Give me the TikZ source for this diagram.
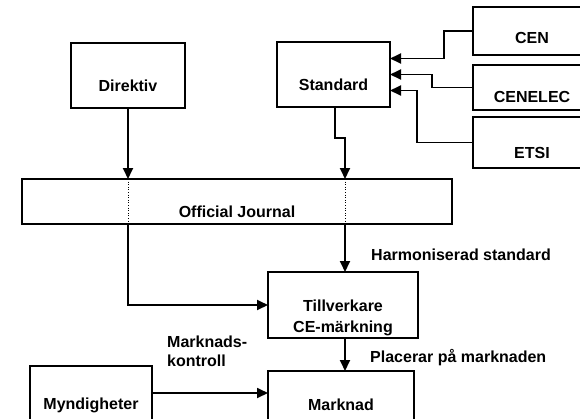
\documentclass[tikz,border=0pt]{standalone}
\usepackage{fontspec}
\setmainfont{Liberation Sans}
\usetikzlibrary{arrows.meta}

\begin{document}
\begin{tikzpicture}[x=1pt,y=-1pt,
		blk/.style={draw,line width=1.9pt,anchor=north west,inner sep=0pt,outer sep=0pt,align=center,font=\fontsize{16}{19}\selectfont\bfseries},
		lbl/.style={anchor=base west,inner sep=0pt,align=left,font=\fontsize{16}{19}\selectfont\bfseries},
		con/.style={line width=1.8pt,-{Triangle[length=11pt,width=10pt]}},
		thru/.style={line width=0.6pt,dotted}]
	\useasboundingbox (0,0) rectangle (580,418);
	\clip (0,0) rectangle (580,418);
	% boxes
	\node[blk,minimum width=114pt,minimum height=65pt,text height=48.5pt,text depth=16.5pt] (dir) at (71,43) {Direktiv};
	\node[blk,minimum width=113pt,minimum height=65pt,text height=48pt,text depth=17pt] (std) at (277,42) {Standard};
	\node[blk,minimum width=118pt,minimum height=48pt,text height=36.3pt,text depth=11.7pt] (cen) at (473,7) {CEN};
	\node[blk,minimum width=118pt,minimum height=45pt,text height=37.7pt,text depth=7.3pt] (cenelec) at (473,65) {CENELEC};
	\node[blk,minimum width=118pt,minimum height=51pt,text height=41.3pt,text depth=9.7pt] (etsi) at (473,117) {ETSI};
	\node[blk,minimum width=430pt,minimum height=45pt,text height=38.7pt,text depth=6.3pt] (oj) at (22,179) {Official Journal};
	\node[blk,minimum width=150pt,minimum height=66pt,text height=60.3pt,text depth=5.7pt] (tv) at (268,272) {Tillverkare\\[2pt]CE-märkning};
	\node[blk,minimum width=146pt,minimum height=70pt,text height=39.7pt,text depth=30.3pt] (mk) at (268,371) {Marknad};
	\node[blk,minimum width=122pt,minimum height=54pt,text height=43.3pt,text depth=10.7pt] (myn) at (30,366) {Myndigheter};
	\coordinate (hs) at ([xshift=2pt]tv.north);
	% labels
	\node[lbl] (harm) at (371,260.7) {Harmoniserad standard};
	\node[lbl] (plac) at (370,362.7) {Placerar på marknaden};
	\node[lbl] (kontr) at (167,366) {Marknads-\\kontroll};
	% standards bodies
	\draw[con] (cen.west) -- ++(-29,0) |- ([yshift=16pt]std.east);
	\draw[con] (cenelec.west) -- ++(-41,0) |- (std.east);
	\draw[con] (etsi.west) -- ++(-56,0) |- ([yshift=-16pt]std.east);
	% through the journal
	\draw[con] (dir.south) -- (dir.south |- oj.north);
	\draw[thru] (dir.south |- oj.north) -- (dir.south |- oj.south);
	\draw[con] (dir.south |- oj.south) |- (tv.west);
	\draw[con] ([xshift=1.5pt]std.south) -- ++(0,31) -| (hs |- oj.north);
	\draw[thru] (hs |- oj.north) -- (hs |- oj.south);
	\draw[con] (hs |- oj.south) -- (hs);
	\draw[con] (hs |- tv.south) -- (hs |- mk.north);
	\draw[con] (myn.east) -- (myn.east -| mk.west);
\end{tikzpicture}
\end{document}
